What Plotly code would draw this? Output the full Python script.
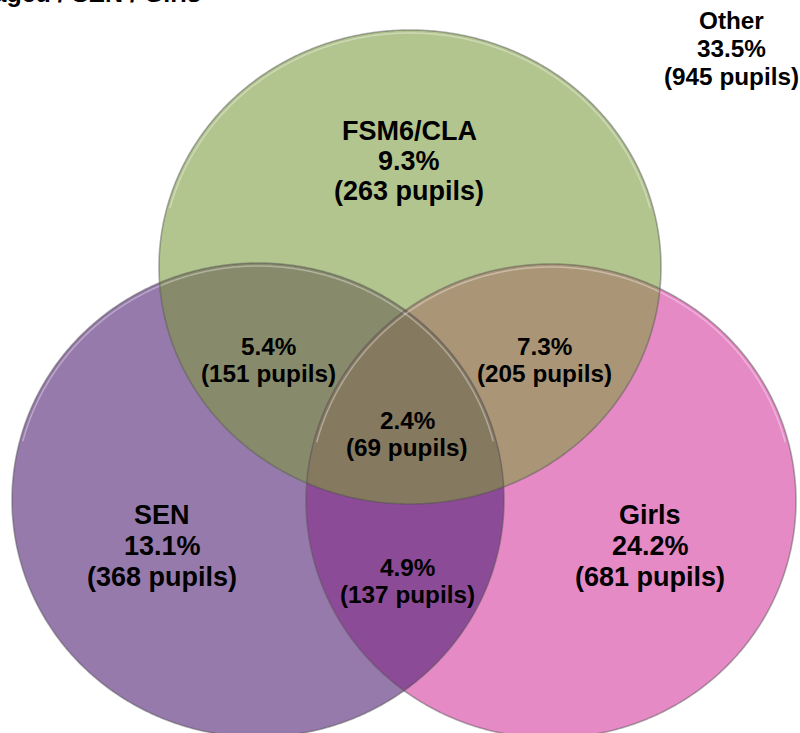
import numpy as np
import plotly.graph_objects as go

# ---- data ----
set_names = ["FSM6/CLA", "SEN", "Girls"]
region_keys = ["FSM6/CLA", "SEN", "Girls", "FSM6/CLA+SEN", "FSM6/CLA+Girls",
               "SEN+Girls", "FSM6/CLA+SEN+Girls", "Other"]
region_pct = [9.3, 13.1, 24.2, 5.4, 7.3, 4.9, 2.4, 33.5]
region_pupils = [263, 368, 681, 151, 205, 137, 69, 945]
title_text = "Disadvantaged / SEN / Girls"

# ---- layout geometry (pixel space) ----
W, H = 800, 733
ellipses = {
    "FSM6/CLA": dict(cx=410, cy=267, rx=251, ry=237, color="#B3C58F"),
    "SEN": dict(cx=258, cy=500, rx=246, ry=237, color="#967AAB"),
    "Girls": dict(cx=551, cy=501, rx=245, ry=237, color="#E68AC6"),
}
overlap_colors = {
    ("FSM6/CLA", "SEN"): "#878B6B",
    ("FSM6/CLA", "Girls"): "#AA9677",
    ("SEN", "Girls"): "#8C4B96",
    ("FSM6/CLA", "SEN", "Girls"): "#857A60",
}
N = 720
t = np.linspace(0, 2 * np.pi, N, endpoint=False)


def boundary(e, shrink=0.0):
    return e["cx"] + (e["rx"] - shrink) * np.cos(t), e["cy"] + (e["ry"] - shrink) * np.sin(t)


def inside(e, x, y):
    return ((x - e["cx"]) / e["rx"]) ** 2 + ((y - e["cy"]) / e["ry"]) ** 2 <= 1.0 + 1e-9


def path_from(xs, ys, close=True):
    s = "M %.2f %.2f " % (xs[0], ys[0]) + " ".join("L %.2f %.2f" % (a, b) for a, b in zip(xs[1:], ys[1:]))
    return s + (" Z" if close else "")


def intersection_path(names):
    px, py = [], []
    for n in names:
        x, y = boundary(ellipses[n])
        m = np.ones_like(x, dtype=bool)
        for o in names:
            if o != n:
                m &= inside(ellipses[o], x, y)
        px.append(x[m]); py.append(y[m])
    px = np.concatenate(px); py = np.concatenate(py)
    mx, my = px.mean(), py.mean()
    order = np.argsort(np.arctan2(py - my, px - mx))
    return path_from(px[order], py[order])


shapes = []
for n in ["SEN", "Girls", "FSM6/CLA"]:
    e = ellipses[n]
    x, y = boundary(e)
    shapes.append(dict(type="path", path=path_from(x, y), xref="x", yref="y",
                       fillcolor=e["color"], line=dict(width=0), layer="above"))
for names, col in overlap_colors.items():
    shapes.append(dict(type="path", path=intersection_path(list(names)), xref="x", yref="y",
                       fillcolor=col, line=dict(width=0), layer="above"))
# outlines and glossy highlights
for n in ["SEN", "Girls", "FSM6/CLA"]:
    e = ellipses[n]
    x, y = boundary(e)
    shapes.append(dict(type="path", path=path_from(x, y), xref="x", yref="y",
                       fillcolor="rgba(0,0,0,0)", line=dict(width=1.6, color="rgba(80,80,80,0.45)"), layer="above"))
    hx, hy = boundary(e, shrink=3.0)
    sel = (t > np.pi * 1.08) & (t < np.pi * 1.92)
    shapes.append(dict(type="path", path=path_from(hx[sel], hy[sel], close=False), xref="x", yref="y",
                       line=dict(width=1.5, color="rgba(255,255,255,0.35)"), layer="above"))

# ---- labels ----
label_pos = {
    "FSM6/CLA": (409, 131, 30),
    "SEN": (162, 515, 31),
    "Girls": (650, 515, 31),
    "FSM6/CLA+SEN": (268, 346, 27),
    "FSM6/CLA+Girls": (544, 346, 27),
    "SEN+Girls": (407, 567, 27),
    "FSM6/CLA+SEN+Girls": (407, 420, 27),
    "Other": (731, 20, 28),
}
big = {"FSM6/CLA", "SEN", "Girls"}
annotations = []
font_family = "Arial, Liberation Sans, sans-serif"
for key, pct, pup in zip(region_keys, region_pct, region_pupils):
    lines = []
    if "+" not in key:
        lines.append(key)
    lines.append("%.1f%%" % pct)
    lines.append("(%d pupils)" % pup)
    x0, y0, step = label_pos[key]
    size = 27 if key in big else 24.3
    for i, ln in enumerate(lines):
        annotations.append(dict(x=x0, y=y0 + i * step, xref="x", yref="y", text=ln, showarrow=False,
                                xanchor="center", yanchor="middle",
                                font=dict(family=font_family, size=size, color="black", weight="bold")))

annotations.append(dict(x=203 / W, y=1.0, xref="paper", yref="paper", text=title_text, showarrow=False,
                        xanchor="right", yanchor="middle", yshift=7,
                        font=dict(family=font_family, size=25, color="black", weight="bold")))

fig = go.Figure()
fig.add_trace(go.Scatter(x=[0, W], y=[0, H], mode="markers", marker=dict(opacity=0), hoverinfo="skip",
                         showlegend=False))
fig.update_layout(
    width=W, height=H, margin=dict(l=0, r=0, t=0, b=0),
    paper_bgcolor="white", plot_bgcolor="white",
    xaxis=dict(range=[0, W], visible=False, fixedrange=True),
    yaxis=dict(range=[H, 0], visible=False, fixedrange=True),
    shapes=shapes, annotations=annotations, showlegend=False,
)
fig.write_html("out.html", post_script="document.body.style.margin='0';", config={"displayModeBar": False})
